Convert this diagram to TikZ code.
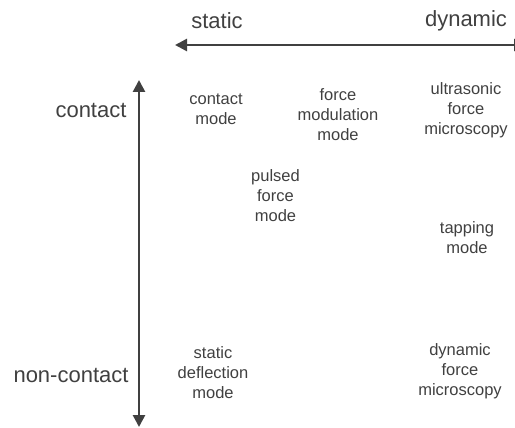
\documentclass[tikz,border=0pt]{standalone}
\usepackage{fontspec}
\setmainfont{Liberation Sans}
\usetikzlibrary{arrows.meta}
\definecolor{ink}{HTML}{404040}
\tikzset{
  axis/.style={draw=ink, line width=2.6pt, -{Triangle[width=12pt,length=12pt]}},
  biglabel/.style={text=ink, font=\fontsize{22}{26}\selectfont, inner sep=0pt},
  mode/.style={text=ink, font=\fontsize{16.5}{20}\selectfont, align=center, inner sep=0pt},
}
\begin{document}
\begin{tikzpicture}[x=1pt,y=-1pt]
\useasboundingbox (0,0) rectangle (515,428);
% axes
\coordinate (hL) at (175,45);
\coordinate (hR) at (526,45);
\coordinate (hM) at (340,45);
\coordinate (vT) at (139,80);
\coordinate (vB) at (139,427);
\coordinate (vM) at (139,250);
\draw[axis] (hM) -- (hL);
\draw[axis] (hM) -- (hR);
\draw[axis] (vM) -- (vT);
\draw[axis] (vM) -- (vB);
% axis labels
\node[biglabel] (static) at (217,21) {static};
\node[biglabel] (dynamic) at (466,21) {dynamic};
\node[biglabel] (contact) at (91,110) {contact};
\node[biglabel] (noncontact) at (71,375) {non-contact};
% modes
\node[mode] (cm) at (216,109) {contact\\mode};
\node[mode] (fmm) at (338,115) {force\\modulation\\mode};
\node[mode] (ufm) at (466,110) {ultrasonic\\force\\microscopy};
\node[mode] (pfm) at (275.5,196) {pulsed\\force\\mode};
\node[mode] (tm) at (467,238) {tapping\\mode};
\node[mode] (sdm) at (213,373) {static\\deflection\\mode};
\node[mode] (dfm) at (460,371) {dynamic\\force\\microscopy};
\end{tikzpicture}
\end{document}
